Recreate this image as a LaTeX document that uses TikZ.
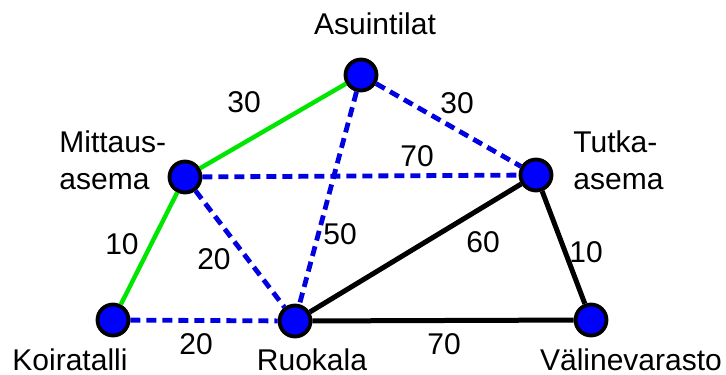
\documentclass[tikz,border=0pt]{standalone}
\usepackage{fontspec}
\setmainfont{Liberation Sans}
\usetikzlibrary{positioning}
\definecolor{siteblue}{RGB}{0,0,255}
\definecolor{treegreen}{RGB}{0,230,0}
\definecolor{candblue}{RGB}{0,0,225}

\begin{document}
\begin{tikzpicture}[
  x=0.5pt, y=-0.5pt,
  site/.style = {circle, draw=black, line width=1.9pt, fill=siteblue,
                 minimum size=15.5pt, inner sep=0pt},
  place/.style = {font=\fontsize{15}{18.5}\selectfont, align=left, inner sep=0pt},
  wlab/.style = {font=\fontsize{15}{18}\selectfont, inner sep=0pt},
  tree/.style = {draw=treegreen, line width=2.2pt},
  cand/.style = {draw=candblue, line width=2.4pt, dash pattern=on 5pt off 3pt},
  used/.style = {draw=black, line width=2.5pt},
]
\useasboundingbox (0,0) rectangle (726,374);

% ── Sites ────────────────────────────────────────────────────────────────────
\node[site] (asuin)   at (361,75)  {};
\node[site] (mittaus) at (185,177) {};
\node[site] (tutka)   at (536,175) {};
\node[site] (koira)   at (113,320) {};
\node[site] (ruoka)   at (295,321) {};
\node[site] (valine)  at (591,320) {};

% ── Site names ───────────────────────────────────────────────────────────────
\node[place, anchor=base]  at (375,35)  {Asuintilat};
\node[place, anchor=west]  at (59,160)  {Mittaus-\\asema};
\node[place, anchor=west]  at (573,160) {Tutka-\\asema};
\node[place, anchor=base]  at (70,370)  {Koiratalli};
\node[place, anchor=base]  at (312,370) {Ruokala};
\node[place, anchor=base]  at (631,370) {Välinevarasto};

% ── Connections ──────────────────────────────────────────────────────────────
\draw[cand] (koira)   -- (ruoka);
\draw[cand] (mittaus) -- (ruoka);
\draw[cand] (mittaus) -- (tutka);
\draw[cand] (asuin)   -- (ruoka);
\draw[cand] (asuin)   -- (tutka);
\draw[tree] (asuin)   -- (mittaus);
\draw[tree] (mittaus) -- (koira);
\draw[used] (ruoka)   -- (tutka);
\draw[used] (ruoka)   -- (valine);
\draw[used] (tutka)   -- (valine);

% ── Weights ──────────────────────────────────────────────────────────────────
\node[wlab] (w1)  at (244,102) {30};
\node[wlab] (w2)  at (457,103) {30};
\node[wlab] (w3)  at (417,156) {70};
\node[wlab] (w4)  at (122,244) {10};
\node[wlab] (w5)  at (214,259) {20};
\node[wlab] (w6)  at (340,234) {50};
\node[wlab] (w7)  at (196,344) {20};
\node[wlab] (w8)  at (483,242) {60};
\node[wlab] (w9)  at (586,252) {10};
\node[wlab] (w10) at (444,344) {70};

\end{tikzpicture}
\end{document}
